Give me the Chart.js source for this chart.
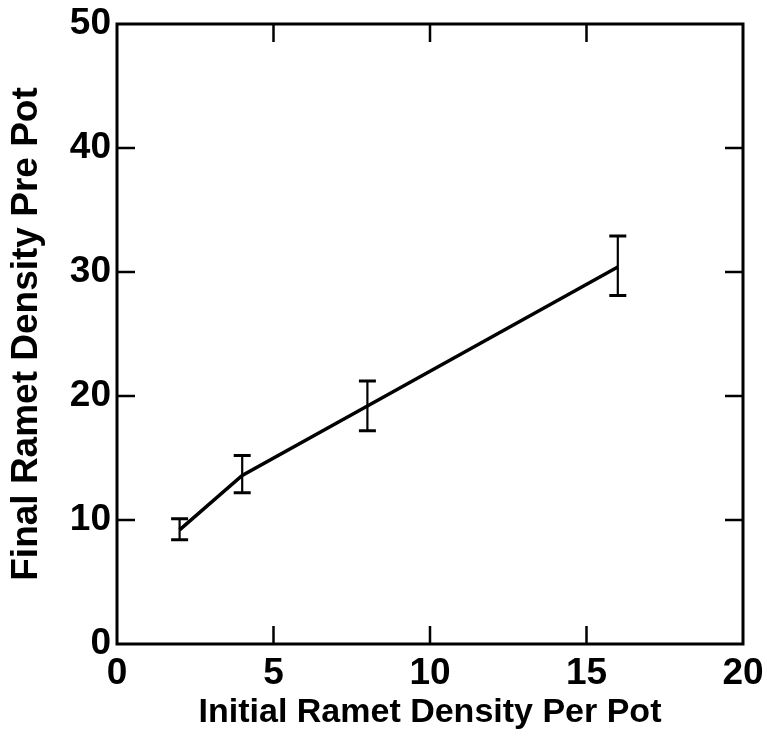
<!DOCTYPE html>
<html>
<head>
<meta charset="utf-8">
<script src="https://cdn.jsdelivr.net/npm/chart.js@4"></script>
<style>
  body { margin: 0; background: #fff; }
  #wrap { width: 767px; height: 749px; }
</style>
</head>
<body>
<div id="wrap"><canvas id="rametChart" width="767" height="749"></canvas></div>
<script>
// values
const initialDensity = [2, 4, 8, 16]
const finalDensity = [9.2, 13.6, 19.2, 30.4]
const errUpper = [10.1, 15.2, 21.2, 32.9]
const errLower = [8.4, 12.2, 17.2, 28.1]
const xTicks = [0, 5, 10, 15, 20]
const yTicks = [0, 10, 20, 30, 40, 50]

const points = initialDensity.map((x, i) => ({ x: x, y: finalDensity[i] }))

// frame with inward ticks on all four sides
const framePlugin = {
  id: 'frame',
  afterDraw(chart) {
    const { ctx, chartArea: a, scales } = chart
    const len = 18
    ctx.save()
    ctx.strokeStyle = '#000'
    ctx.lineWidth = 3
    ctx.strokeRect(a.left, a.top, a.right - a.left, a.bottom - a.top)
    ctx.lineWidth = 2.5
    ctx.beginPath()
    xTicks.slice(1, -1).forEach(v => {
      const px = scales.x.getPixelForValue(v)
      ctx.moveTo(px, a.bottom); ctx.lineTo(px, a.bottom - len)
      ctx.moveTo(px, a.top); ctx.lineTo(px, a.top + len)
    })
    yTicks.slice(1, -1).forEach(v => {
      const py = scales.y.getPixelForValue(v)
      ctx.moveTo(a.left, py); ctx.lineTo(a.left + len, py)
      ctx.moveTo(a.right, py); ctx.lineTo(a.right - len, py)
    })
    ctx.stroke()
    ctx.restore()
  }
}

// vertical error bars with caps
const errorBarPlugin = {
  id: 'errorBars',
  afterDatasetsDraw(chart) {
    const { ctx, scales } = chart
    const cap = 8.5
    ctx.save()
    ctx.strokeStyle = '#000'
    initialDensity.forEach((x, i) => {
      const px = scales.x.getPixelForValue(x)
      const top = scales.y.getPixelForValue(errUpper[i])
      const bot = scales.y.getPixelForValue(errLower[i])
      ctx.lineWidth = 2.2
      ctx.beginPath()
      ctx.moveTo(px, top); ctx.lineTo(px, bot)
      ctx.stroke()
      ctx.lineWidth = 3
      ctx.beginPath()
      ctx.moveTo(px - cap, top); ctx.lineTo(px + cap, top)
      ctx.moveTo(px - cap, bot); ctx.lineTo(px + cap, bot)
      ctx.stroke()
    })
    ctx.restore()
  }
}

const fam = '"Liberation Sans", Arial, sans-serif'
const tickFont = { family: fam, size: 37, weight: 'bold', lineHeight: 1 }

new Chart(document.getElementById('rametChart'), {
  type: 'line',
  data: {
    datasets: [{
      data: points,
      borderColor: '#000',
      borderWidth: 3.5,
      pointRadius: 0,
      tension: 0,
      fill: false
    }]
  },
  options: {
    responsive: false,
    animation: false,
    events: [],
    layout: { padding: { top: 24, right: 24, left: 0, bottom: 0 } },
    plugins: { legend: { display: false }, tooltip: { enabled: false } },
    scales: {
      x: {
        type: 'linear',
        min: 0, max: 20,
        afterBuildTicks: s => { s.ticks = xTicks.map(v => ({ value: v })) },
        afterFit: s => { s.height = 105; s.paddingLeft = 0; s.paddingRight = 0 },
        grid: { display: false, drawTicks: false },
        border: { display: false },
        ticks: { color: '#000', font: tickFont, padding: 11, maxRotation: 0 },
        title: {
          display: true,
          text: 'Initial Ramet Density Per Pot',
          color: '#000',
          font: { family: fam, size: 34, weight: 'bold', lineHeight: 1.2 },
          padding: { top: 0, bottom: 16 }
        }
      },
      y: {
        type: 'linear',
        min: 0, max: 50,
        afterBuildTicks: s => { s.ticks = yTicks.map(v => ({ value: v })) },
        afterFit: s => { s.width = 117; s.paddingTop = 0; s.paddingBottom = 0 },
        grid: { display: false, drawTicks: false },
        border: { display: false },
        ticks: { color: '#000', font: tickFont, padding: 6 },
        title: {
          display: true,
          text: 'Final Ramet Density Pre Pot',
          color: '#000',
          font: { family: fam, size: 37, weight: 'bold', lineHeight: 1.2 },
          padding: { top: 5, bottom: 0 }
        }
      }
    }
  },
  plugins: [framePlugin, errorBarPlugin]
})
</script>
</body>
</html>
